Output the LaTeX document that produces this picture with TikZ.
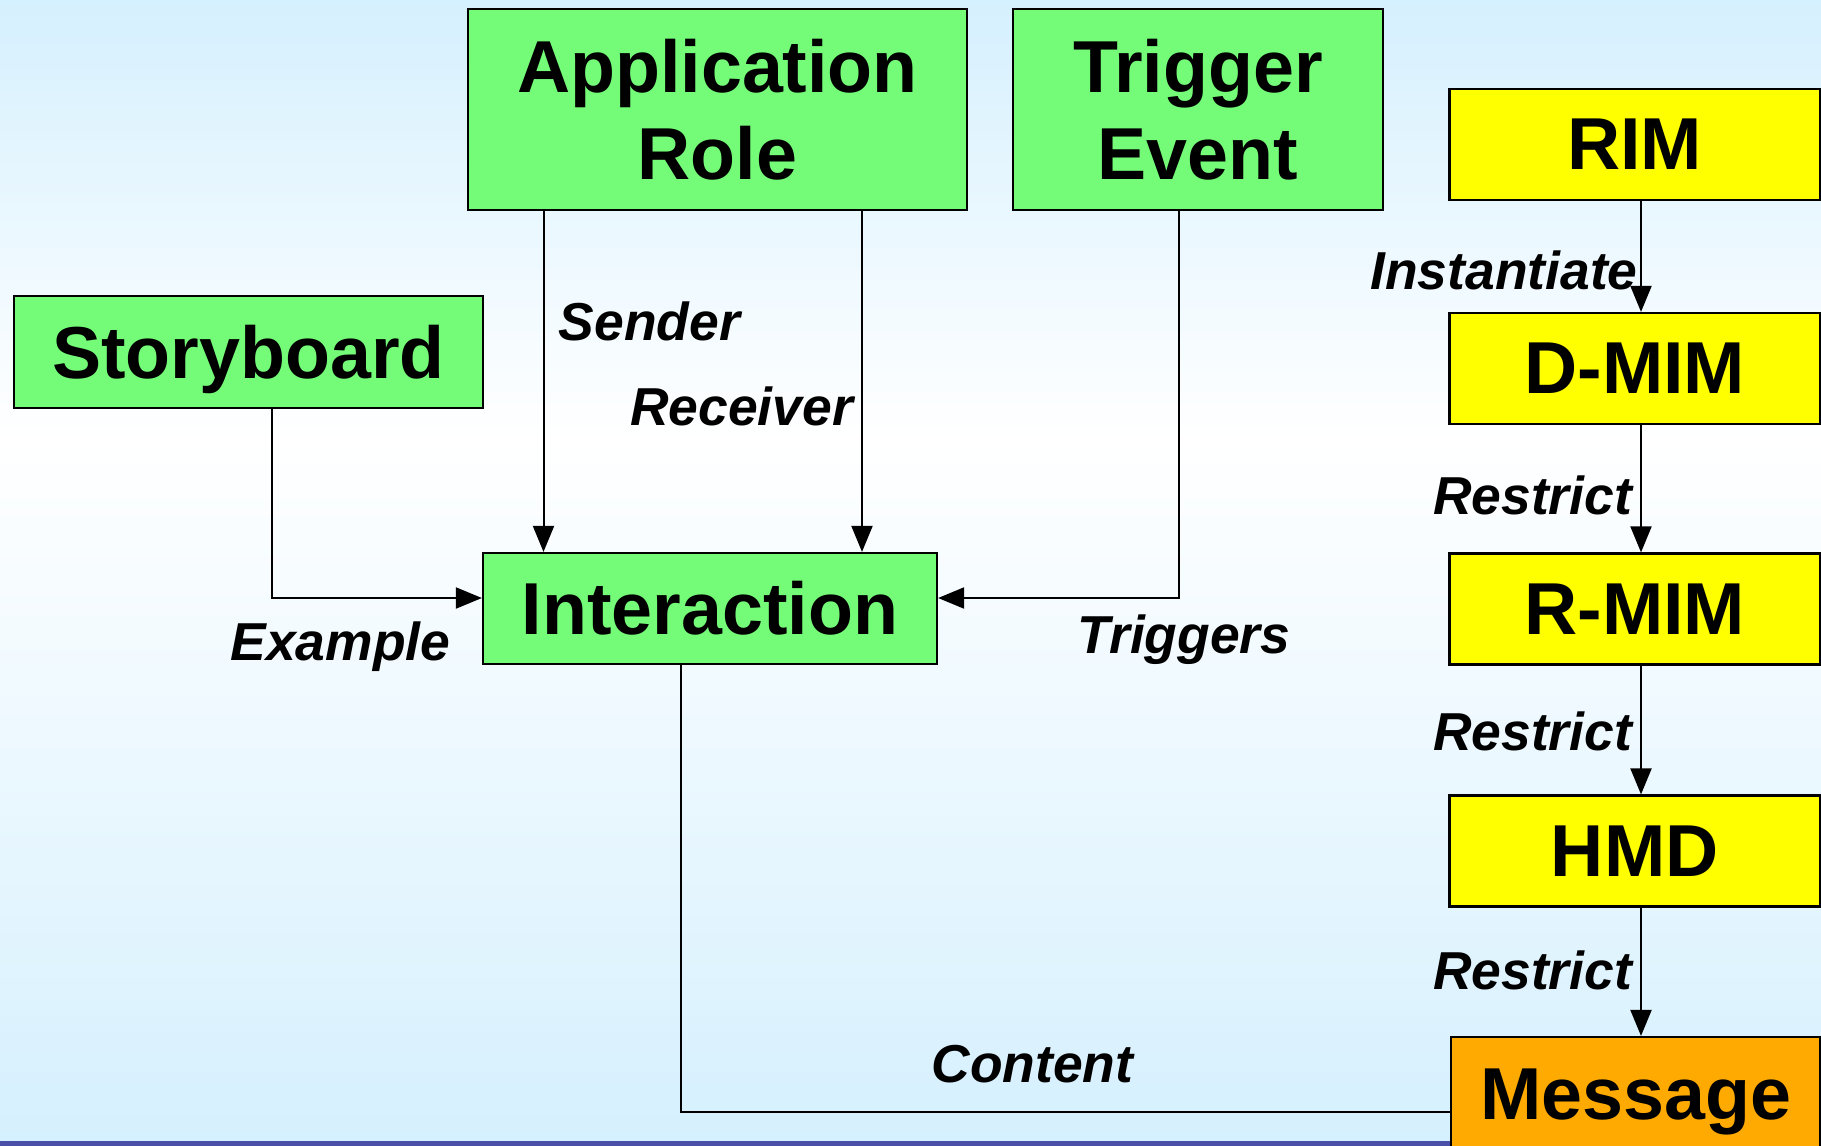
\documentclass[tikz,border=0pt]{standalone}
\usepackage{fontspec}
\setmainfont{Liberation Sans}
\usetikzlibrary{arrows.meta}
\definecolor{boxgreen}{RGB}{116,252,120}
\definecolor{boxyellow}{RGB}{255,255,0}
\definecolor{boxorange}{RGB}{255,170,0}
\definecolor{bgblue}{RGB}{213,240,254}
\definecolor{barblue}{RGB}{74,80,168}

\begin{document}
\begin{tikzpicture}[x=0.5pt,y=-0.5pt,
   box/.style={draw=black,line width=1.1pt,inner sep=0pt,align=center,
     font=\fontsize{36.8}{43.5}\selectfont\bfseries},
   greenbox/.style={box,fill=boxgreen},
   yellowbox/.style={box,fill=boxyellow,minimum width=185.3pt,minimum height=55.5pt},
   lbl/.style={anchor=base,inner sep=0pt,font=\fontsize{26.7}{32}\selectfont\bfseries\itshape},
   arr/.style={line width=1pt,-{Triangle[length=13pt,width=10.5pt]}},
   plain/.style={line width=1pt}
]
\useasboundingbox (0,0) rectangle (1821,1146);
\clip (0,0) rectangle (1821,1146);
% background
\shade[top color=bgblue,bottom color=white] (0,0) rectangle (1821,440);
\shade[top color=white,bottom color=bgblue] (0,439) rectangle (1821,1141);
\fill[barblue] (0,1141) rectangle (1821,1146);

% green boxes
\node[greenbox,minimum width=249.5pt,minimum height=100.5pt] (approle) at (717.5,109.5) {Application\\Role};
\node[greenbox,minimum width=185pt,minimum height=100.5pt] (trigger) at (1198,109.5) {Trigger\\Event};
\node[greenbox,minimum width=234.5pt,minimum height=56pt,text depth=0pt] (storyboard) at (248.5,352) {Storyboard};
\node[greenbox,minimum width=227pt,minimum height=55.5pt] (interaction) at (710,608.5) {Interaction};

% model chain
\node[yellowbox] (rim) at (1634.7,144.5) {RIM};
\node[yellowbox] (dmim) at (1634.7,368.5) {D-MIM};
\node[yellowbox] (rmim) at (1634.7,609) {R-MIM};
\node[yellowbox] (hmd) at (1634.7,851) {HMD};
\node[box,fill=boxorange,minimum width=184.5pt,minimum height=57pt,text depth=0pt] (message) at (1635.5,1094) {Message};

% helper coordinates
\coordinate (sendx) at (543.5,0);
\coordinate (recvx) at (862,0);
\coordinate (trigx) at (1179,0);
\coordinate (storyx) at (272,0);
\coordinate (inty) at (0,598);
\coordinate (contx) at (680.5,0);
\coordinate (conty) at (0,1111.5);
\coordinate (chainx) at (1641,0);

% connectors
\draw[arr] (approle.south -| sendx) -- (interaction.north -| sendx);
\draw[arr] (approle.south -| recvx) -- (interaction.north -| recvx);
\draw[arr] (trigger.south -| trigx) |- (interaction.east |- inty);
\draw[arr] (storyboard.south -| storyx) |- (interaction.west |- inty);
\draw[plain] (interaction.south -| contx) |- (message.west |- conty);
\foreach \Top/\Bot in {rim/dmim,dmim/rmim,rmim/hmd,hmd/message}
  \draw[arr] (\Top.south -| chainx) -- (\Bot.north -| chainx);

% labels
\node[lbl] (lsender) at (649.5,340) {Sender};
\node[lbl] (lreceiver) at (741.5,425) {Receiver};
\node[lbl] (lexample) at (340.5,660) {Example};
\node[lbl] (ltriggers) at (1184,653) {Triggers};
\node[lbl] (lcontent) at (1032.5,1082) {Content};
\node[lbl] (linst) at (1504,289) {Instantiate};
\foreach \Y/\Name in {514.5/lrestrA,750/lrestrB,989.5/lrestrC}
  \node[lbl] (\Name) at (1532.5,\Y) {Restrict};
\end{tikzpicture}
\end{document}
